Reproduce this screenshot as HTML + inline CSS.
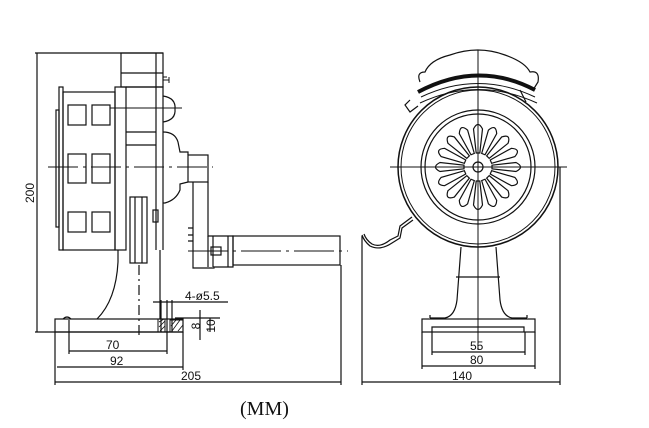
<!DOCTYPE html>
<html><head><meta charset="utf-8"><style>
html,body{margin:0;padding:0;background:#fff;}
svg{display:block}
text{font-family:"Liberation Sans",sans-serif;fill:#111}
</style></head><body>
<svg width="649" height="428" viewBox="0 0 649 428" xmlns="http://www.w3.org/2000/svg">
<defs>
<path id="pt" d="M476.2 153 L473.5 129 Q478 120 482.5 129 L479.8 153 Z"/>
</defs>
<g fill="none" stroke="#111" stroke-width="1.2">
<!-- LEFT VIEW -->
<line x1="35" y1="53" x2="163" y2="53"/>
<line x1="37" y1="53" x2="37" y2="332"/>
<line x1="35" y1="332" x2="183" y2="332"/>
<line x1="55" y1="382" x2="341" y2="382"/>
<line x1="55" y1="332" x2="55" y2="385"/>
<line x1="341" y1="265" x2="341" y2="385"/>
<line x1="57" y1="367" x2="183" y2="367"/>
<line x1="183" y1="332" x2="183" y2="370"/>
<line x1="69" y1="351" x2="167" y2="351"/>
<line x1="69" y1="320" x2="69" y2="354"/>
<line x1="167" y1="300" x2="167" y2="354"/>
<line x1="153" y1="302" x2="228" y2="302"/>
<line x1="161" y1="300" x2="161" y2="332"/>
<line x1="172" y1="300" x2="172" y2="332"/>
<line x1="200" y1="310" x2="200" y2="340"/>
<line x1="175" y1="318" x2="220" y2="318"/>
<line x1="210" y1="318" x2="210" y2="332"/>
<rect x="55" y="319" width="128" height="13"/>
<path d="M63 319 q4 -4 8 0"/>
<path d="M158 319 l7 0 l0 13 l-7 0z M170 320 l13 0 l0 12 l-13 0z" stroke-width="1"/>
<path d="M159 322 l5 -3 M159 327 l6 -6 M160 331 l5 -5 M171 326 l5 -6 M172 331 l8 -11 M178 331 l5 -6" stroke-width="0.8"/>
<path d="M118 250 L118 262 Q116 300 97 319"/>
<line x1="160" y1="250" x2="160" y2="319"/>
<line x1="139" y1="265" x2="139" y2="338" stroke-dasharray="10,4,2,4"/>
<rect x="56" y="110" width="3" height="117"/>
<rect x="59" y="87" width="4" height="163"/>
<rect x="63" y="92" width="52" height="158"/>
<rect x="68" y="105" width="18" height="20"/><rect x="92" y="105" width="18" height="20"/>
<rect x="68" y="154" width="18" height="29"/><rect x="92" y="154" width="18" height="29"/>
<rect x="68" y="212" width="18" height="20"/><rect x="92" y="212" width="18" height="20"/>
<rect x="121" y="53" width="42" height="34"/>
<line x1="121" y1="73" x2="163" y2="73"/>
<rect x="115" y="87" width="11" height="163"/>
<path d="M126 87 L163 87 L163 250"/>
<line x1="156" y1="53" x2="156" y2="250"/>
<line x1="126" y1="132" x2="156" y2="132"/>
<line x1="126" y1="145" x2="156" y2="145"/>
<path d="M163 96 Q176 98 175 109 Q176 120 163 122"/>
<path d="M163 132 Q175 132 178 142 L180 152 L188 152 L188 155"/>
<path d="M188 182 L180 184 L180 190 Q176 200 165 203 L163 203"/>
<path d="M163 77 l4 0 M163 80 l6 0 M169 77 l0 6" stroke-width="1"/>
<rect x="153" y="210" width="5" height="12"/>
<rect x="130" y="197" width="17" height="66"/>
<line x1="135" y1="197" x2="135" y2="263"/>
<line x1="142" y1="197" x2="142" y2="263"/>
<rect x="188" y="155" width="20" height="27"/>
<path d="M193 182 L193 268 L214 268 L214 267 L233 267 L233 236 L208 236 L208 182"/>
<line x1="208" y1="236" x2="208" y2="267"/>
<path d="M213 236 L213 267 M228 236 L228 267"/>
<rect x="233" y="236" width="107" height="29"/>
<rect x="211" y="247" width="10" height="8"/>
<path d="M193 228 l-5 0 M193 235 l-5 0 M193 241 l-5 0"/>
<line x1="48" y1="167" x2="213" y2="167" stroke-dasharray="30,5,3,5" stroke-width="1"/>
<line x1="110" y1="108" x2="182" y2="108" stroke-width="1"/>
<line x1="188" y1="251" x2="348" y2="251" stroke-dasharray="40,5,3,5" stroke-width="1"/>

<!-- RIGHT VIEW -->
<line x1="478" y1="50" x2="478" y2="350" stroke-width="1"/>
<line x1="390" y1="167" x2="567" y2="167" stroke-width="1"/>
<path d="M420 82 Q416 72 425 72 Q430 60 450 55 Q478 45 505 55 Q525 62 530 72 Q540 70 538 82 L533 90"/>
<path d="M418 92 Q478 60 535 90" stroke-width="4"/>
<path d="M410 100 L405 105 L410 112 L418 106"/>
<path d="M421 97 Q478 70 535 97" stroke-width="1"/>
<path d="M420 103 Q478 76 537 103" stroke-width="1"/>
<line x1="520" y1="90" x2="526" y2="102"/>
<circle cx="478" cy="167" r="80" stroke-width="1.5"/>
<circle cx="478" cy="167" r="77" stroke-width="1"/>
<circle cx="478" cy="167" r="57"/>
<circle cx="478" cy="167" r="53"/>
<circle cx="478" cy="167" r="5"/>
<use href="#pt"/>
<use href="#pt" transform="rotate(22.5 478 167)"/>
<use href="#pt" transform="rotate(45 478 167)"/>
<use href="#pt" transform="rotate(67.5 478 167)"/>
<use href="#pt" transform="rotate(90 478 167)"/>
<use href="#pt" transform="rotate(112.5 478 167)"/>
<use href="#pt" transform="rotate(135 478 167)"/>
<use href="#pt" transform="rotate(157.5 478 167)"/>
<use href="#pt" transform="rotate(180 478 167)"/>
<use href="#pt" transform="rotate(202.5 478 167)"/>
<use href="#pt" transform="rotate(225 478 167)"/>
<use href="#pt" transform="rotate(247.5 478 167)"/>
<use href="#pt" transform="rotate(270 478 167)"/>
<use href="#pt" transform="rotate(292.5 478 167)"/>
<use href="#pt" transform="rotate(315 478 167)"/>
<use href="#pt" transform="rotate(337.5 478 167)"/>
<path d="M412 217 L400 226 L398 236 L390 240 Q380 248 372 244 Q366 240 364 234"/>
<path d="M413 220 L402 228 L400 238 L392 243 Q380 251 370 246 Q364 241 362 235"/>
<path d="M461 247 L457 300 Q455 316 445 318 L430 318"/>
<path d="M496 247 L500 300 Q502 316 512 318 L527 318"/>
<line x1="456" y1="277" x2="500" y2="277"/>
<rect x="422" y="319" width="113" height="13"/>
<path d="M432 332 L432 327 L524 327 L524 332"/>
<path d="M430 318 l0 -3 M527 318 l0 -3"/>
<line x1="432" y1="352" x2="525" y2="352"/>
<line x1="432" y1="332" x2="432" y2="355"/>
<line x1="525" y1="332" x2="525" y2="355"/>
<line x1="422" y1="366" x2="535" y2="366"/>
<line x1="422" y1="332" x2="422" y2="369"/>
<line x1="535" y1="332" x2="535" y2="369"/>
<line x1="362" y1="382" x2="560" y2="382"/>
<line x1="362" y1="236" x2="362" y2="385"/>
<line x1="560" y1="167" x2="560" y2="385"/>
</g>
<g font-size="12">
<text x="106" y="349">70</text>
<text x="110" y="365">92</text>
<text x="181" y="380">205</text>
<text x="185" y="300">4-ø5.5</text>
<text transform="translate(200 326) rotate(-90)" text-anchor="middle">8</text>
<text transform="translate(215 326) rotate(-90)" text-anchor="middle">10</text>
<text transform="translate(34 193) rotate(-90)" text-anchor="middle">200</text>
<text x="470" y="350">55</text>
<text x="470" y="364">80</text>
<text x="452" y="380">140</text>
</g>
<text x="240" y="415" font-size="20" style="font-family:'Liberation Serif',serif">(MM)</text>
</svg>
</body></html>
